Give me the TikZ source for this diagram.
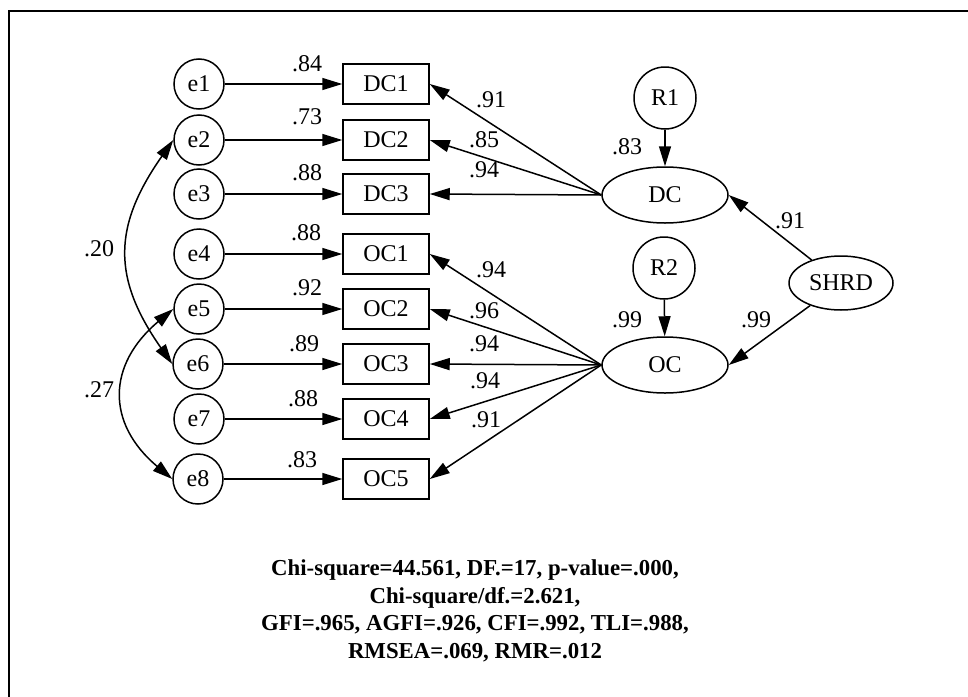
\documentclass[tikz,border=0pt]{standalone}
\usepackage{fontspec}
\setmainfont{Liberation Serif}
\usetikzlibrary{arrows.meta,shapes,positioning,calc}

\begin{document}
\begin{tikzpicture}[x=0.5pt,y=-0.5pt,>={Triangle[length=10pt,width=6pt]},
line width=0.75pt,font=\fontsize{12}{14}\selectfont,
err/.style={circle,draw,minimum size=25pt,inner sep=0pt},
res/.style={circle,draw,minimum size=31pt,inner sep=0pt},
obs/.style={rectangle,draw,minimum width=43pt,minimum height=20pt,inner sep=0pt},
lat/.style={ellipse,draw,minimum width=63pt,minimum height=28pt,inner sep=0pt},
lbl/.style={inner sep=0pt}]
\useasboundingbox (0,0) rectangle (968,696);
\clip (0,0) rectangle (968,696);
\draw[line width=1pt] (9,11) rectangle (995,720);
% error terms
\node[err] (e1) at (199,84) {e1};
\node[err] (e2) at (199,140) {e2};
\node[err] (e3) at (199,194) {e3};
\node[err] (e4) at (199,254) {e4};
\node[err] (e5) at (199,309) {e5};
\node[err] (e6) at (198,364) {e6};
\node[err] (e7) at (199,419) {e7};
\node[err] (e8) at (198,479) {e8};
% observed items
\node[obs] (dc1) at (386,84) {DC1};
\node[obs] (dc2) at (386,140) {DC2};
\node[obs] (dc3) at (386,194) {DC3};
\node[obs] (oc1) at (386,254) {OC1};
\node[obs] (oc2) at (386,309) {OC2};
\node[obs] (oc3) at (386,364) {OC3};
\node[obs] (oc4) at (386,419) {OC4};
\node[obs] (oc5) at (386,479) {OC5};
% latent factors
\node[lat] (dc) at (665,195) {DC};
\node[lat] (oc) at (665,365) {OC};
\node[lat,minimum width=52pt,minimum height=27pt] (shrd) at (841,283) {SHRD};
\node[res] (r1) at (665,98) {R1};
\node[res] (r2) at (664,268) {R2};
% paths
\draw[->] (e1) -- (dc1);
\draw[->] (e2) -- (dc2);
\draw[->] (e3) -- (dc3);
\draw[->] (e4) -- (oc1);
\draw[->] (e5) -- (oc2);
\draw[->] (e6) -- (oc3);
\draw[->] (e7) -- (oc4);
\draw[->] (e8) -- (oc5);
\draw[->] (dc.west) -- (dc1.east);
\draw[->] (dc.west) -- (dc2.east);
\draw[->] (dc.west) -- (dc3.east);
\draw[->] (oc.west) -- (oc1.east);
\draw[->] (oc.west) -- (oc2.east);
\draw[->] (oc.west) -- (oc3.east);
\draw[->] (oc.west) -- (oc4.east);
\draw[->] (oc.west) -- (oc5.east);
\draw[->] (r1) -- (dc);
\draw[->] (r2) -- (oc);
\draw[->] (shrd) -- (dc.east);
\draw[->] (shrd) -- (oc.east);
\draw[<->] (e2.west) to[out=235,in=125,looseness=1.2] (e6.west);
\draw[<->] (e5.west) to[out=220,in=140,looseness=1.3] (e8.west);
% estimates
\node[lbl] (w1) at (307,64) {.84};
\node[lbl] (w2) at (307,117) {.73};
\node[lbl] (w3) at (307,173) {.88};
\node[lbl] (w4) at (306,233) {.88};
\node[lbl] (w5) at (307,288) {.92};
\node[lbl] (w6) at (304,344) {.89};
\node[lbl] (w7) at (303,399) {.88};
\node[lbl] (w8) at (302,460) {.83};
\node[lbl] (l1) at (491,100) {.91};
\node[lbl] (l2) at (484,140) {.85};
\node[lbl] (l3) at (484,170) {.94};
\node[lbl] (l4) at (491,270) {.94};
\node[lbl] (l5) at (484,311) {.96};
\node[lbl] (l6) at (484,344) {.94};
\node[lbl] (l7) at (485,381) {.94};
\node[lbl] (l8) at (486,420) {.91};
\node[lbl] (q1) at (627,147) {.83};
\node[lbl] (q2) at (627,320) {.99};
\node[lbl] (g1) at (790,221) {.91};
\node[lbl] (g2) at (756,320) {.99};
\node[lbl] (c1) at (99,249) {.20};
\node[lbl] (c2) at (99,390) {.27};
% fit indices
\node[align=center,font=\fontsize{11.4}{13.8}\selectfont\bfseries] (fit) at (475,611)
{Chi-square=44.561, DF.=17, p-value=.000,\\Chi-square/df.=2.621,\\
GFI=.965, AGFI=.926, CFI=.992, TLI=.988,\\RMSEA=.069, RMR=.012};
\end{tikzpicture}
\end{document}
